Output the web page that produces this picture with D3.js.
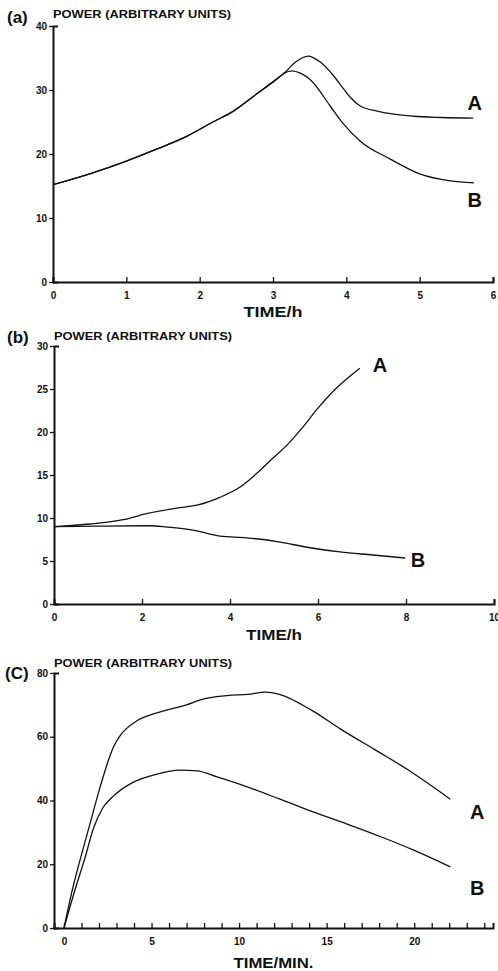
<!DOCTYPE html>
<html>
<head>
<meta charset="utf-8">
<script src="https://cdn.jsdelivr.net/npm/d3@7"></script>
<style>
  html, body { margin: 0; padding: 0; background: #fff; }
  svg { display: block; }
  text { font-family: "Liberation Sans", Arial, sans-serif; font-weight: bold; fill: #111; }
</style>
</head>
<body>
<svg id="chart" width="498" height="971"></svg>
<script>
// ---------- DATA ----------
// Panel (a): TIME/h vs power
const aTimeA  = [0, 0.5, 1.0, 1.42, 1.83, 2.18, 2.46, 2.78, 3.05, 3.15, 3.3, 3.48, 3.64, 3.82, 3.96, 4.05, 4.19, 4.42, 4.91, 5.3, 5.73];
const aPowerA = [15.2, 16.9, 18.9, 20.8, 22.8, 25.0, 26.7, 29.4, 31.7, 32.6, 34.3, 35.3, 34.4, 32.3, 30.2, 28.9, 27.5, 26.7, 25.9, 25.7, 25.6];
const aTimeB  = [0, 0.5, 1.0, 1.42, 1.83, 2.18, 2.46, 2.78, 3.05, 3.15, 3.26, 3.38, 3.51, 3.78, 3.96, 4.19, 4.6, 5.0, 5.42, 5.74];
const aPowerB = [15.2, 16.9, 18.9, 20.8, 22.8, 25.0, 26.7, 29.4, 31.7, 32.6, 33.0, 32.6, 31.6, 27.5, 24.7, 22.0, 19.2, 16.9, 15.8, 15.5];
const aXTicks = [0, 1, 2, 3, 4, 5, 6];
const aYTicks = [0, 10, 20, 30, 40];

// Panel (b): TIME/h vs power
const bTimeA  = [0, 0.82, 1.57, 2.1, 2.86, 3.25, 3.77, 4.23, 4.61, 4.9, 5.3, 5.66, 5.97, 6.34, 6.95];
const bPowerA = [9.0, 9.3, 9.8, 10.5, 11.2, 11.5, 12.4, 13.6, 15.2, 16.6, 18.5, 20.6, 22.6, 24.7, 27.4];
const bTimeB  = [0, 1.0, 2.18, 2.57, 3.16, 3.77, 4.38, 5.14, 5.75, 6.5, 7.25, 7.98];
const bPowerB = [9.0, 9.05, 9.1, 8.95, 8.6, 7.9, 7.7, 7.2, 6.6, 6.05, 5.7, 5.35];
const bXTicks = [0, 2, 4, 6, 8, 10];
const bYTicks = [0, 5, 10, 15, 20, 25, 30];

// Panel (c): TIME/MIN. vs power
const cTimeA  = [0, 0.5, 1.0, 1.5, 2.0, 2.5, 2.8, 3.2, 4.17, 5.5, 7.0, 7.8, 9.3, 10.5, 11.5, 12.3, 14.2, 15.8, 17.7, 19.6, 20.7, 22.06];
const cPowerA = [0, 12.5, 23, 33, 43, 52, 56.5, 60.3, 65, 67.8, 70, 71.6, 72.9, 73.3, 74.0, 73.3, 68.1, 62.4, 56.1, 49.8, 45.7, 40.4];
const cTimeB  = [0, 0.63, 1.2, 1.66, 2.23, 2.8, 3.94, 5.31, 6.63, 7.6, 8.74, 10.46, 12.34, 14.23, 16.17, 18.06, 19.94, 22.06];
const cPowerB = [0, 12, 22, 30.9, 37.8, 41.3, 45.7, 48.3, 49.5, 49.3, 47.4, 44.3, 40.4, 36.4, 32.6, 28.7, 24.5, 19.2];
const cXMajorTicks = [0, 5, 10, 15, 20];
const cXMinorTicks = d3.range(0, 25, 1);
const cYTicks = [0, 20, 40, 60, 80];

const seriesNames = ["A", "B"];
const yTitle = "POWER (ARBITRARY UNITS)";

// ---------- LAYOUT ----------
const panels = [
  { tag: "(a)", tagPos: [7, 23], titleY: 18,
    xDom: [0, 6], xRange: [53, 493], yDom: [0, 40], yRange: [282, 26],
    xTicks: aXTicks, xMinor: null, yTicks: aYTicks,
    xTitle: "TIME/h", xTitleLen: 59, xTitleY: 317,
    series: [[aTimeA, aPowerA], [aTimeB, aPowerB]],
    labelPos: [[5.75, 28.0], [5.75, 12.8]] },
  { tag: "(b)", tagPos: [7, 343], titleY: 340,
    xDom: [0, 10], xRange: [54, 494], yDom: [0, 30], yRange: [604, 346],
    xTicks: bXTicks, xMinor: null, yTicks: bYTicks,
    xTitle: "TIME/h", xTitleLen: 56, xTitleY: 640,
    series: [[bTimeA, bPowerA], [bTimeB, bPowerB]],
    labelPos: [[7.41, 27.8], [8.27, 5.1]] },
  { tag: "(C)", tagPos: [5, 679], titleY: 667,
    xDom: [-0.57, 24.5], xRange: [54, 493], yDom: [0, 80], yRange: [928, 673],
    xTicks: cXMajorTicks, xMinor: cXMinorTicks, yTicks: cYTicks,
    xTitle: "TIME/MIN.", xTitleLen: 80, xTitleY: 968,
    series: [[cTimeA, cPowerA], [cTimeB, cPowerB]],
    labelPos: [[23.6, 36.4], [23.6, 12.5]] }
];

const svg = d3.select("#chart");
const tickFont = "DejaVu Sans, Liberation Sans, sans-serif";

panels.forEach(p => {
  const x = d3.scaleLinear().domain(p.xDom).range(p.xRange);
  const y = d3.scaleLinear().domain(p.yDom).range(p.yRange);
  const g = svg.append("g");
  const y0 = p.yRange[0];
  const x0 = p.xRange[0];

  // x axis (ticks pointing up, inside)
  const xAxis = d3.axisBottom(x)
    .tickValues(p.xMinor ? p.xMinor : p.xTicks)
    .tickSize(-5).tickSizeOuter(-5).tickPadding(10)
    .tickFormat(d => (p.xMinor ? (p.xTicks.includes(d) ? d : "") : d));
  const xg = g.append("g").attr("transform", `translate(0,${y0})`).call(xAxis);
  xg.select(".domain").attr("stroke", "#111").attr("stroke-width", 2);
  xg.selectAll(".tick line").attr("stroke", "#111").attr("stroke-width", 1.3);
  xg.selectAll(".tick text").attr("font-size", 10).attr("fill", "#111")
    .attr("font-family", tickFont).attr("font-weight", "bold");

  // y axis (ticks outward, top cap to right)
  const yAxis = d3.axisLeft(y).tickValues(p.yTicks)
    .tickSize(4).tickSizeOuter(-5).tickPadding(2);
  const yg = g.append("g").attr("transform", `translate(${x0},0)`).call(yAxis);
  yg.select(".domain").attr("stroke", "#111").attr("stroke-width", 2);
  yg.selectAll(".tick line").attr("stroke", "#111").attr("stroke-width", 1.3);
  yg.selectAll(".tick text").attr("font-size", 10).attr("fill", "#111")
    .attr("font-family", tickFont).attr("font-weight", "bold");

  // curves
  const line = d3.line().x(d => x(d[0])).y(d => y(d[1])).curve(d3.curveMonotoneX);
  p.series.forEach((s, i) => {
    const pts = s[0].map((t, k) => [t, s[1][k]]);
    g.append("path").attr("d", line(pts))
      .attr("fill", "none").attr("stroke", "#111").attr("stroke-width", 1.3);
    g.append("text")
      .attr("x", x(p.labelPos[i][0])).attr("y", y(p.labelPos[i][1]))
      .attr("text-anchor", "middle").attr("dominant-baseline", "central")
      .attr("font-size", 20).text(seriesNames[i]);
  });

  // y title
  g.append("text").attr("x", x0).attr("y", p.titleY)
    .attr("font-size", 10.5).attr("font-family", tickFont)
    .attr("textLength", 178).attr("lengthAdjust", "spacingAndGlyphs")
    .text(yTitle);

  // x title
  g.append("text").attr("x", (p.xRange[0] + p.xRange[1]) / 2).attr("y", p.xTitleY)
    .attr("text-anchor", "middle").attr("font-size", 15)
    .attr("textLength", p.xTitleLen).attr("lengthAdjust", "spacingAndGlyphs")
    .text(p.xTitle);

  // panel tag
  g.append("text").attr("x", p.tagPos[0]).attr("y", p.tagPos[1])
    .attr("font-size", 17).attr("font-weight", "normal").text(p.tag);
});
</script>
</body>
</html>
